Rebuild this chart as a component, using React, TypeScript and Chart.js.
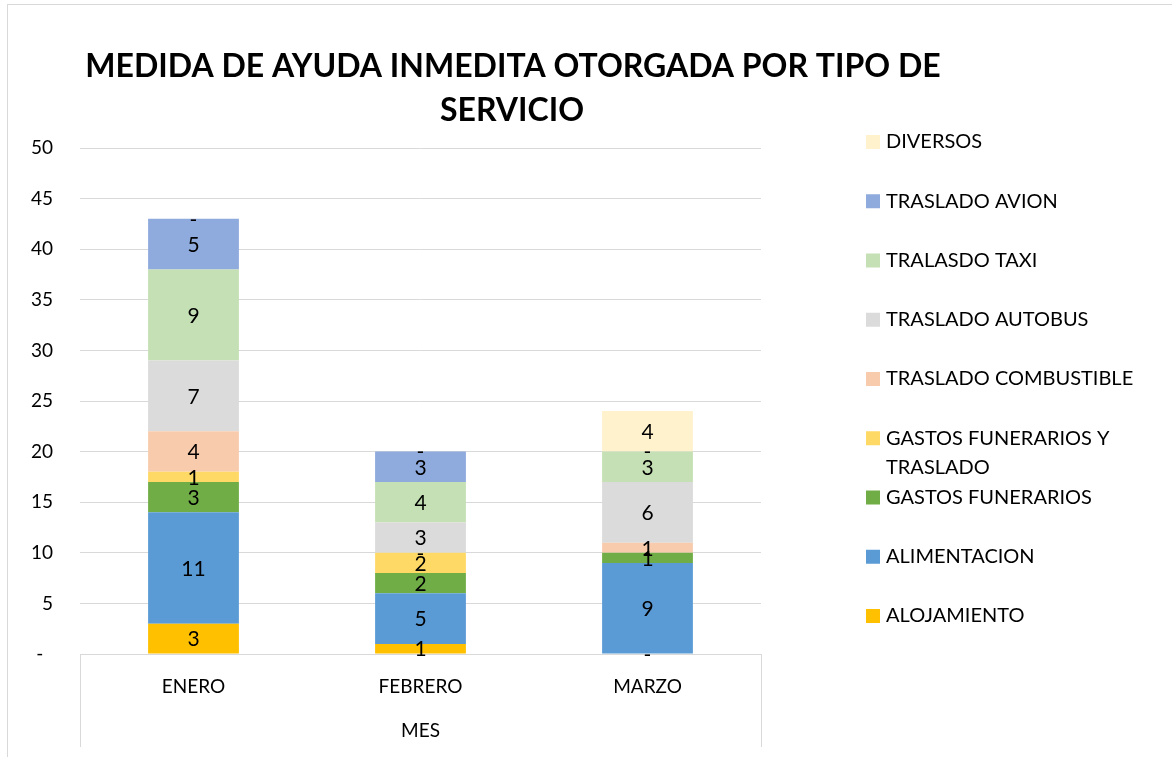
import React, { useEffect, useRef } from "react";
import { Chart, registerables } from "chart.js";

Chart.register(...registerables);

const FONT = "Lato";

const categories = ["ENERO", "FEBRERO", "MARZO"];
const alojamiento = [3, 1, 0];
const alimentacion = [11, 5, 9];
const gastosFunerarios = [3, 2, 1];
const gastosFunerariosTraslado = [1, 2, 0];
const trasladoCombustible = [4, 0, 1];
const trasladoAutobus = [7, 3, 6];
const tralasdoTaxi = [9, 4, 3];
const trasladoAvion = [5, 3, 0];
const diversos = [0, 0, 4];

const seriesNames = [
  "ALOJAMIENTO",
  "ALIMENTACION",
  "GASTOS FUNERARIOS",
  "GASTOS FUNERARIOS Y TRASLADO",
  "TRASLADO COMBUSTIBLE",
  "TRASLADO AUTOBUS",
  "TRALASDO TAXI",
  "TRASLADO AVION",
  "DIVERSOS",
];
const seriesValues = [
  alojamiento,
  alimentacion,
  gastosFunerarios,
  gastosFunerariosTraslado,
  trasladoCombustible,
  trasladoAutobus,
  tralasdoTaxi,
  trasladoAvion,
  diversos,
];
const seriesColors = [
  "#FFC000",
  "#5B9BD5",
  "#70AD47",
  "#FFD966",
  "#F8CBAD",
  "#DBDBDB",
  "#C5E0B4",
  "#8FAADC",
  "#FFF2CC",
];

const titleLines = ["MEDIDA DE AYUDA INMEDITA OTORGADA POR TIPO DE", "SERVICIO"];
const xAxisTitle = "MES";

const decorPlugin = {
  id: "decor",
  beforeDraw(chart: any) {
    const ctx = chart.ctx;
    ctx.save();
    ctx.fillStyle = "#ffffff";
    ctx.fillRect(0, 0, chart.width, chart.height);
    ctx.strokeStyle = "#D9D9D9";
    ctx.lineWidth = 1;
    ctx.strokeRect(7.5, 4.5, 3000, 3000);
    ctx.restore();
  },
  afterDraw(chart: any) {
    const ctx = chart.ctx;
    const area = chart.chartArea;
    ctx.save();
    // category axis box
    ctx.strokeStyle = "#D9D9D9";
    ctx.lineWidth = 1;
    ctx.beginPath();
    ctx.moveTo(Math.round(area.left) + 0.5, area.bottom);
    ctx.lineTo(Math.round(area.left) + 0.5, 747);
    ctx.moveTo(Math.round(area.right) + 0.5, area.bottom);
    ctx.lineTo(Math.round(area.right) + 0.5, 747);
    ctx.moveTo(area.left, Math.round(area.bottom) + 0.5);
    ctx.lineTo(area.right, Math.round(area.bottom) + 0.5);
    ctx.stroke();

    // title
    ctx.fillStyle = "#000000";
    ctx.font = `bold 32px ${FONT}`;
    ctx.textAlign = "center";
    ctx.textBaseline = "middle";
    ctx.fillText(titleLines[0], 513, 67);
    ctx.fillText(titleLines[1], 512, 111);

    // legend (reverse order)
    const ds = chart.data.datasets;
    ctx.font = `20px ${FONT}`;
    ctx.textAlign = "left";
    const maxW = 255;
    for (let i = ds.length - 1, k = 0; i >= 0; i--, k++) {
      const y = 142 + k * 59.25;
      ctx.fillStyle = ds[i].backgroundColor;
      ctx.fillRect(866, y - 7, 14, 14);
      ctx.fillStyle = "#000000";
      const words = String(ds[i].label).split(" ");
      const lines: string[] = [];
      let cur = "";
      for (const w of words) {
        const test = cur ? cur + " " + w : w;
        if (ctx.measureText(test).width > maxW && cur) {
          lines.push(cur);
          cur = w;
        } else cur = test;
      }
      if (cur) lines.push(cur);
      lines.forEach((ln, j) => ctx.fillText(ln, 886, y + j * 29));
    }

    // data labels
    ctx.font = `21px ${FONT}`;
    ctx.textAlign = "center";
    ctx.textBaseline = "middle";
    ctx.fillStyle = "#000000";
    ds.forEach((d: any, i: number) => {
      const meta = chart.getDatasetMeta(i);
      meta.data.forEach((el: any, j: number) => {
        const v = d.data[j];
        const txt = v === 0 ? "-" : String(v);
        ctx.fillText(txt, el.x, (el.y + el.base) / 2 + 1);
      });
    });
    ctx.restore();
  },
};

export default function App() {
  const ref = useRef<HTMLCanvasElement>(null);
  useEffect(() => {
    if (!ref.current) return;
    const chart = new Chart(ref.current, {
      type: "bar",
      data: {
        labels: categories,
        datasets: seriesNames.map((name, i) => ({
          label: name,
          data: seriesValues[i],
          backgroundColor: seriesColors[i],
          borderWidth: 0,
          barPercentage: 0.4,
          categoryPercentage: 1,
        })),
      },
      options: {
        responsive: false,
        animation: false,
        layout: { padding: { left: 0, right: 411, top: 148, bottom: 0 } },
        plugins: {
          legend: { display: false },
          title: { display: false },
          tooltip: { enabled: false },
        },
        scales: {
          x: {
            stacked: true,
            grid: { display: false, drawTicks: false },
            border: { display: false },
            ticks: {
              color: "#000000",
              font: { family: FONT, size: 19 },
              padding: 21,
            },
            title: {
              display: true,
              text: xAxisTitle,
              color: "#000000",
              font: { family: FONT, size: 19 },
              padding: { top: 0, bottom: 15 },
            },
            afterFit: (s: any) => {
              s.height = 103;
            },
          },
          y: {
            stacked: true,
            min: 0,
            max: 50,
            grid: { color: "#D9D9D9", drawTicks: false },
            border: { display: false },
            ticks: {
              stepSize: 5,
              color: "#000000",
              font: { family: FONT, size: 19 },
              padding: 27,
              callback: (v: any) => (v === 0 ? "-  " : String(v)),
            },
            afterFit: (s: any) => {
              s.width = 80;
            },
          },
        },
      },
      plugins: [decorPlugin],
    });
    return () => chart.destroy();
  }, []);
  return (
    <div style={{ position: "absolute", left: 0, top: 0, width: 1172, height: 757 }}>
      <canvas ref={ref} width={1172} height={757} />
    </div>
  );
}
